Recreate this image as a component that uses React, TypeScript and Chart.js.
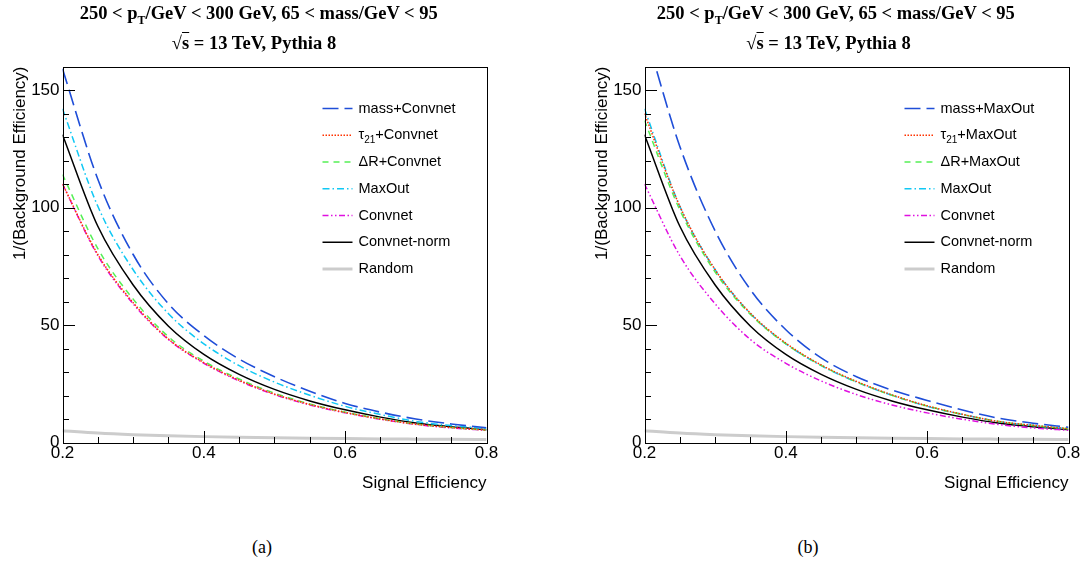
import React, { useEffect, useRef } from 'react';
import { Chart, registerables } from 'chart.js';
Chart.register(...registerables);

// ---------- data ----------
const SIG_EFF = [0.2, 0.25, 0.3, 0.35, 0.4, 0.45, 0.5, 0.55, 0.6, 0.65, 0.7, 0.75, 0.8];

// panel (a)
const A_MASS_CONVNET = [159, 112, 80, 59, 45.5, 35.5, 28, 21.8, 16.6, 12.9, 10, 7.9, 6.3];
const A_TAU21_CONVNET = [110, 80, 59.5, 44, 34, 26.5, 20.6, 16.2, 12.8, 10, 7.8, 6.4, 5.3];
const A_DR_CONVNET = [114, 82.5, 61, 45, 34.6, 27, 21, 16.4, 12.9, 10.1, 7.9, 6.4, 5.3];
// shared
const MAXOUT = [142, 100.5, 73.5, 54.8, 42, 32.7, 25.7, 20.1, 15.4, 11.9, 9.0, 7.2, 5.9];
const CONVNET = [110, 79.5, 59, 43.8, 33.7, 26.2, 20.4, 16, 12.6, 9.9, 7.7, 6.2, 5.2];
const CONVNET_NORM = [131, 92, 67, 49.5, 37.5, 29, 22.6, 17.7, 13.9, 10.8, 8.3, 6.7, 5.5];
const RANDOM = [5, 4, 3.33, 2.86, 2.5, 2.22, 2, 1.82, 1.67, 1.54, 1.43, 1.33, 1.25];
// panel (b)
const B_MASS_MAXOUT = [176, 126, 90, 65, 48, 36, 28, 22.3, 17.9, 13.8, 10.4, 8.2, 6.5];
const B_TAU21_MAXOUT = [140, 100.5, 73.5, 55, 42.3, 33, 26, 20.3, 15.6, 12, 9.0, 7.3, 5.9];
const B_DR_MAXOUT = [137, 99, 72.5, 54.5, 42, 32.8, 25.8, 20.1, 15.5, 11.9, 9.0, 7.2, 5.8];

const X_TICKS = [0.2, 0.4, 0.6, 0.8];
const X_TICK_LABELS = ['0.2', '0.4', '0.6', '0.8'];
const X_MINOR = [0.25, 0.3, 0.35, 0.45, 0.5, 0.55, 0.65, 0.7, 0.75];
const Y_TICKS = [0, 50, 100, 150];
const Y_TICK_LABELS = ['0', '50', '100', '150'];
const Y_MINOR = [10, 20, 30, 40, 60, 70, 80, 90, 110, 120, 130, 140];

const LABELS_A = ['mass+Convnet', 'τ_{21}+Convnet', 'ΔR+Convnet', 'MaxOut', 'Convnet', 'Convnet-norm', 'Random'];
const LABELS_B = ['mass+MaxOut', 'τ_{21}+MaxOut', 'ΔR+MaxOut', 'MaxOut', 'Convnet', 'Convnet-norm', 'Random'];

// ---------- styles ----------
const STYLES = [
  { color: '#1f4ed8', width: 1.6, dash: [16, 6] },
  { color: '#ff3300', width: 1.5, dash: [1.5, 1.5] },
  { color: '#55f055', width: 1.5, dash: [6, 5] },
  { color: '#10c8f4', width: 1.5, dash: [7, 3, 1.5, 3] },
  { color: '#e010e0', width: 1.5, dash: [6, 2.5, 1.5, 2.5, 1.5, 2.5] },
  { color: '#000000', width: 1.5, dash: [] as number[] },
  { color: '#cccccc', width: 3, dash: [] as number[] },
];

const SANS = '"Liberation Sans", Arial, Helvetica, sans-serif';
const SERIF = '"Liberation Serif", "Times New Roman", serif';

function drawRich(ctx: CanvasRenderingContext2D, text: string, x: number, y: number) {
  const parts: { t: string; sub: boolean }[] = [];
  const re = /_\{([^}]*)\}/g;
  let last = 0;
  let m: RegExpExecArray | null;
  while ((m = re.exec(text))) {
    if (m.index > last) parts.push({ t: text.slice(last, m.index), sub: false });
    parts.push({ t: m[1], sub: true });
    last = m.index + m[0].length;
  }
  if (last < text.length) parts.push({ t: text.slice(last), sub: false });
  let cx = x;
  for (const p of parts) {
    ctx.font = p.sub ? `10px ${SANS}` : `14.5px ${SANS}`;
    ctx.fillText(p.t, cx, p.sub ? y + 5 : y);
    cx += ctx.measureText(p.t).width;
  }
}

function makeDecor(labels: string[]) {
  return {
    id: 'rootDecor',
    afterDraw(chart: any) {
      const ctx: CanvasRenderingContext2D = chart.ctx;
      const area = chart.chartArea;
      const L = Math.round(area.left);
      const R = Math.round(area.right);
      const T = Math.round(area.top);
      const B = Math.round(area.bottom);
      const xs = chart.scales.x;
      const ys = chart.scales.y;
      ctx.save();
      ctx.setLineDash([]);
      ctx.fillStyle = '#000000';
      // frame
      ctx.fillRect(L, T, R - L + 1, 1);
      ctx.fillRect(L, B, R - L + 1, 1);
      ctx.fillRect(L, T, 1, B - T + 1);
      ctx.fillRect(R, T, 1, B - T + 1);
      // ticks (drawn inward, ROOT style)
      X_TICKS.forEach((v) => {
        const p = Math.round(xs.getPixelForValue(v));
        ctx.fillRect(p, B - 12, 1, 12);
      });
      X_MINOR.forEach((v) => {
        const p = Math.round(xs.getPixelForValue(v));
        ctx.fillRect(p, B - 6, 1, 6);
      });
      Y_TICKS.forEach((v) => {
        const p = Math.round(ys.getPixelForValue(v));
        ctx.fillRect(L, p, 12, 1);
      });
      Y_MINOR.forEach((v) => {
        const p = Math.round(ys.getPixelForValue(v));
        ctx.fillRect(L, p, 6, 1);
      });
      // legend
      const x0 = area.left + 260;
      const x1 = area.left + 290;
      const tx = area.left + 296;
      const y0 = 108.5;
      const dy = 26.75;
      labels.forEach((lab, i) => {
        const st = STYLES[i];
        const y = y0 + i * dy;
        ctx.save();
        ctx.strokeStyle = st.color;
        ctx.lineWidth = st.width;
        ctx.setLineDash(st.dash);
        ctx.beginPath();
        ctx.moveTo(x0, y);
        ctx.lineTo(x1, y);
        ctx.stroke();
        ctx.restore();
        ctx.fillStyle = '#000';
        ctx.textBaseline = 'middle';
        ctx.textAlign = 'left';
        drawRich(ctx, lab, tx, y);
      });
      ctx.restore();
    },
  };
}

function Panel({ left, series, labels }: { left: number; series: number[][]; labels: string[] }) {
  const ref = useRef<HTMLCanvasElement>(null);
  useEffect(() => {
    const datasets = series.map((arr, i) => ({
      label: labels[i],
      data: SIG_EFF.map((x, j) => ({ x, y: arr[j] })),
      borderColor: STYLES[i].color,
      borderWidth: STYLES[i].width,
      borderDash: STYLES[i].dash,
      pointRadius: 0,
      fill: false,
      cubicInterpolationMode: 'monotone' as const,
    }));
    const chart = new Chart(ref.current!, {
      type: 'line',
      data: { datasets },
      options: {
        animation: false,
        responsive: false,
        layout: { padding: { left: 0, top: 66.5, right: 55.5, bottom: 0 } },
        plugins: { legend: { display: false }, tooltip: { enabled: false } },
        scales: {
          x: {
            type: 'linear',
            min: 0.2,
            max: 0.8,
            afterFit: (s: any) => {
              s.height = 57.5;
            },
            afterBuildTicks: (s: any) => {
              s.ticks = X_TICKS.map((v) => ({ value: v }));
            },
            grid: { display: false, drawTicks: false },
            border: { display: false },
            ticks: {
              autoSkip: false,
              maxRotation: 0,
              padding: 1,
              color: '#000',
              font: { family: SANS, size: 17 },
              callback: (v: any) => X_TICK_LABELS[X_TICKS.findIndex((t) => Math.abs(t - v) < 1e-6)] ?? '',
            },
            title: {
              display: true,
              text: 'Signal Efficiency',
              align: 'end',
              color: '#000',
              font: { family: SANS, size: 17 },
              padding: { top: 0, bottom: 6.8 },
            },
          },
          y: {
            type: 'linear',
            min: 0,
            max: 160,
            afterFit: (s: any) => {
              s.width = 62.5;
            },
            afterBuildTicks: (s: any) => {
              s.ticks = Y_TICKS.map((v) => ({ value: v }));
            },
            grid: { display: false, drawTicks: false },
            border: { display: false },
            ticks: {
              autoSkip: false,
              padding: 3,
              color: '#000',
              font: { family: SANS, size: 17 },
              callback: (v: any) => Y_TICK_LABELS[Y_TICKS.indexOf(Number(v))] ?? '',
            },
            title: {
              display: true,
              text: '1/(Background Efficiency)',
              align: 'end',
              color: '#000',
              font: { family: SANS, size: 17 },
              padding: { top: 10, bottom: 0 },
            },
          },
        },
      },
      plugins: [makeDecor(labels)],
    } as any);
    return () => chart.destroy();
  }, []);
  return (
    <canvas
      ref={ref}
      width={542}
      height={500}
      style={{ position: 'absolute', left, top: 0, width: 542, height: 500, display: 'block' }}
    />
  );
}

function Title({ cx1, cx2 }: { cx1: number; cx2: number }) {
  const base: React.CSSProperties = {
    position: 'absolute',
    width: 500,
    textAlign: 'center',
    fontFamily: SERIF,
    fontWeight: 'bold',
    fontSize: 18.5,
    lineHeight: '22px',
    whiteSpace: 'nowrap',
    color: '#000',
  };
  return (
    <>
      <div style={{ ...base, left: cx1 - 250, top: 2 }}>
        250 &lt; p<span style={{ fontSize: '0.65em', position: 'relative', top: '0.45em' }}>T</span>/GeV &lt; 300 GeV, 65 &lt; mass/GeV &lt; 95
      </div>
      <div style={{ ...base, left: cx2 - 250, top: 32 }}>
        √<span style={{ textDecoration: 'overline' }}>s</span> = 13 TeV, Pythia 8
      </div>
    </>
  );
}

function Caption({ cx, text }: { cx: number; text: string }) {
  return (
    <div
      style={{
        position: 'absolute',
        left: cx - 50,
        width: 100,
        top: 537,
        textAlign: 'center',
        fontFamily: SERIF,
        fontSize: 18,
        lineHeight: '20px',
        color: '#000',
      }}
    >
      {text}
    </div>
  );
}

export default function App() {
  return (
    <div style={{ position: 'absolute', left: 0, top: 0, width: 1085, height: 564, background: '#fff', overflow: 'hidden' }}>
      <Panel
        left={0}
        series={[A_MASS_CONVNET, A_TAU21_CONVNET, A_DR_CONVNET, MAXOUT, CONVNET, CONVNET_NORM, RANDOM]}
        labels={LABELS_A}
      />
      <Panel
        left={582}
        series={[B_MASS_MAXOUT, B_TAU21_MAXOUT, B_DR_MAXOUT, MAXOUT, CONVNET, CONVNET_NORM, RANDOM]}
        labels={LABELS_B}
      />
      <Title cx1={258.7} cx2={254} />
      <div style={{ position: 'absolute', left: 577, top: 0 }}>
        <Title cx1={258.8} cx2={251.5} />
      </div>
      <Caption cx={262} text="(a)" />
      <Caption cx={808} text="(b)" />
    </div>
  );
}
